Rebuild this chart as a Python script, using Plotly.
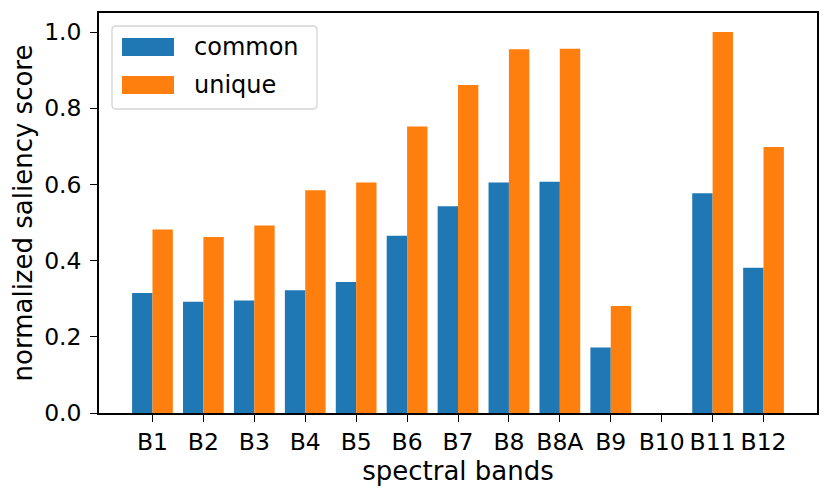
import plotly.graph_objects as go

bands = ['B1', 'B2', 'B3', 'B4', 'B5', 'B6', 'B7', 'B8', 'B8A', 'B9', 'B10', 'B11', 'B12']
common = [0.315, 0.292, 0.295, 0.322, 0.344, 0.465, 0.543, 0.605, 0.607, 0.172, 0.0, 0.577, 0.381]
unique = [0.482, 0.462, 0.492, 0.585, 0.605, 0.752, 0.861, 0.955, 0.956, 0.281, 0.0, 1.0, 0.698]
y_ticks = [0.0, 0.2, 0.4, 0.6, 0.8, 1.0]

# the page body has an 8px margin, so the figure is drawn 16px smaller
OFF = 8
W, H = 830 - 2 * OFF, 496 - 2 * OFF
L, R, T, B = 99 - OFF, 13 - OFF, 13 - OFF, 83 - OFF
font = 'DejaVu Sans'
fs_title = 22
fs_tick = 23.5
fs_leg = 24

c_common = '#1f77b4'
c_unique = '#ff7f0e'

fig = go.Figure()
fig.add_trace(go.Bar(x=bands, y=common, name='common', marker=dict(color=c_common, line=dict(width=0))))
fig.add_trace(go.Bar(x=bands, y=unique, name='unique', marker=dict(color=c_unique, line=dict(width=0))))

# helpers: page pixel -> paper coords of the plot area
pw = W - L - R
ph = H - T - B
def px(x):
    return (x - OFF - L) / pw
def py(y):
    return 1 - (y - OFF - T) / ph

# legend drawn by hand to get matplotlib-like patches
x0, x1, y0, y1, r = 112, 317, 26, 109, 4
path = (f"M {px(x0 + r)} {py(y0)} L {px(x1 - r)} {py(y0)} Q {px(x1)} {py(y0)} {px(x1)} {py(y0 + r)} "
        f"L {px(x1)} {py(y1 - r)} Q {px(x1)} {py(y1)} {px(x1 - r)} {py(y1)} "
        f"L {px(x0 + r)} {py(y1)} Q {px(x0)} {py(y1)} {px(x0)} {py(y1 - r)} "
        f"L {px(x0)} {py(y0 + r)} Q {px(x0)} {py(y0)} {px(x0 + r)} {py(y0)} Z")
shapes = [dict(type='path', xref='paper', yref='paper', path=path,
               line=dict(color='#d5d5d5', width=1.3), fillcolor='rgba(255,255,255,0.8)', layer='above')]
annotations = []
for i, (name, col) in enumerate([('common', c_common), ('unique', c_unique)]):
    top = 38 + i * 38
    shapes.append(dict(type='rect', xref='paper', yref='paper', x0=px(122), x1=px(174),
                       y0=py(top + 18), y1=py(top), fillcolor=col, line=dict(width=0), layer='above'))
    annotations.append(dict(xref='paper', yref='paper', x=px(192), y=py(top + 9), text=name,
                            showarrow=False, xanchor='left', yanchor='middle',
                            font=dict(family=font, size=fs_leg, color='black')))

fig.update_layout(
    width=W, height=H,
    margin=dict(l=L, r=R, t=T, b=B),
    plot_bgcolor='white', paper_bgcolor='white',
    barmode='group', bargap=0.2, bargroupgap=0,
    showlegend=False,
    font=dict(family=font, size=fs_title, color='black'),
    shapes=shapes, annotations=annotations,
    xaxis=dict(range=[-1.05, 13.05], showline=True, linecolor='black', linewidth=1.5, mirror=True,
               ticks='outside', ticklen=7, tickwidth=1.3, tickcolor='black', showgrid=False,
               automargin=False, tickangle=0,
               title=dict(text='spectral bands', standoff=0), tickfont=dict(size=fs_tick)),
    yaxis=dict(range=[0, 1.05], showline=True, linecolor='black', linewidth=1.5, mirror=True,
               ticks='outside', ticklen=7, tickwidth=1.3, tickcolor='black', showgrid=False, zeroline=False,
               tickvals=y_ticks, tickformat='.1f', automargin=False, ticklabelstandoff=4,
               title=dict(text='normalized saliency score', standoff=4), tickfont=dict(size=fs_tick)),
)

fig.write_html('out.html')
